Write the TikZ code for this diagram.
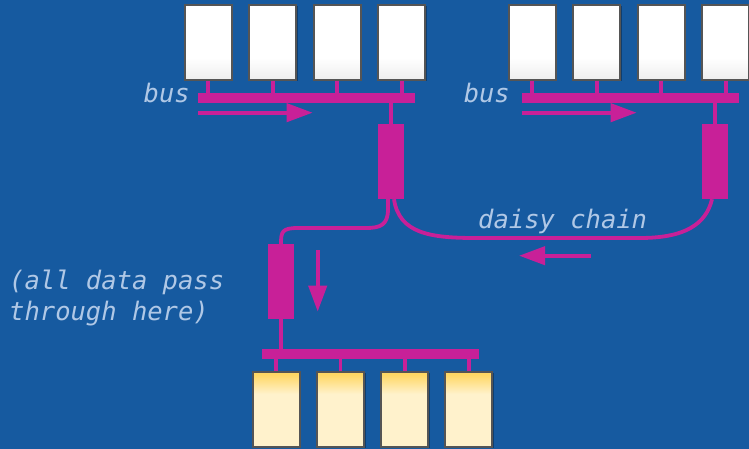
\documentclass[tikz,border=0pt]{standalone}
\usepackage{fontspec}
\newfontfamily\labelfont{DejaVu Sans Mono}
\usetikzlibrary{arrows.meta,shadows}
\definecolor{bg}{RGB}{22,90,160}
\definecolor{mag}{RGB}{200,32,152}
\definecolor{txt}{RGB}{176,200,230}
\definecolor{gold}{RGB}{255,215,100}
\definecolor{cream}{RGB}{255,242,204}
\definecolor{edge}{RGB}{85,85,85}
\definecolor{lightgray}{RGB}{238,238,238}
\pgfdeclareverticalshading{whitebox}{100bp}{color(0bp)=(lightgray); color(25bp)=(lightgray); color(40bp)=(white); color(100bp)=(white)}
\pgfdeclareverticalshading{creambox}{100bp}{color(0bp)=(cream); color(60bp)=(cream); color(73bp)=(gold); color(100bp)=(gold)}
\tikzset{
  cpu/.style={draw=edge, line width=2pt, minimum width=47pt, minimum height=75pt, inner sep=0pt,
    shade, shading=whitebox, drop shadow={opacity=0.3, shadow xshift=1.5pt, shadow yshift=-1.5pt, fill=black}},
  mem/.style={cpu, shading=creambox},
  busbar/.style={fill=mag, minimum width=217pt, minimum height=9.5pt, inner sep=0pt},
  switchbox/.style={fill=mag, minimum width=26pt, minimum height=75pt, inner sep=0pt},
  stub/.style={draw=mag, line width=3.8pt},
  wire/.style={draw=mag, line width=3.8pt},
  flow/.style={draw=mag, line width=4pt, -{Triangle[length=26pt,width=18pt]}},
  lbl/.style={text=txt, font=\labelfont\itshape\fontsize{25.5}{31.5}\selectfont, inner sep=0pt}
}
\begin{document}
\begin{tikzpicture}[x=1pt, y=-1pt]
\useasboundingbox (0,0) rectangle (749,449);
\fill[bg] (0,0) rectangle (749,449);

% switches
\node[switchbox] (sw1) at (391,161.5) {};
\node[switchbox] (sw2) at (715,161.5) {};
\node[switchbox] (sw3) at (281,281.5) {};

\draw[wire] ([xshift=-3pt]sw1.south) -- ++(0,10) .. controls +(0,16) and +(14,0) .. (366,228) -- (298,228) .. controls +(-16,0) and +(0,-12) .. (sw3.north);
\draw[wire] ([xshift=3pt]sw1.south) .. controls +(5,34) and +(-45,0) .. (475,238) -- (640,238) .. controls +(45,0) and +(-6,25) .. ([xshift=-3pt]sw2.south);

% buses
\node[busbar] (bus1) at (306.5,98) {};
\node[busbar] (bus2) at (630.3,98) {};
\node[busbar, minimum height=10pt] (bus3) at (370.5,354) {};

% boxes
\foreach \i in {0,...,3} {
  \node[cpu] (a\i) at ({208+64.6*\i},42.5) {};
  \draw[stub] (a\i.south) -- (a\i.south |- bus1.north);
  \node[cpu] (b\i) at ({532+64.6*\i},42.5) {};
  \draw[stub] (b\i.south) -- (b\i.south |- bus2.north);
  \node[mem] (m\i) at ({276.3+64.2*\i},409) {};
  \draw[stub] (m\i.north) -- (m\i.north |- bus3.south);
}

\draw[stub] (sw1.north) -- (sw1.north |- bus1.south);
\draw[stub] (sw2.north) -- (sw2.north |- bus2.south);
\draw[stub] (sw3.south) -- (sw3.south |- bus3.north);

% flow arrows
\coordinate (f1s) at (198,112.7); \coordinate (f1e) at (312.7,112.7);
\coordinate (f2s) at (522,112.7); \coordinate (f2e) at (636.7,112.7);
\coordinate (f3s) at (591,255.7); \coordinate (f3e) at (519,255.7);
\coordinate (f4s) at (317.7,250); \coordinate (f4e) at (317.7,311.7);
\draw[flow] (f1s) -- (f1e);
\draw[flow] (f2s) -- (f2e);
\draw[flow] (f3s) -- (f3e);
\draw[flow] (f4s) -- (f4e);

% labels
\node[lbl, anchor=base east] (t1) at (190,103) {bus};
\node[lbl, anchor=base east] (t2) at (510,103) {bus};
\node[lbl, anchor=base west] (t3) at (478,228) {daisy chain};
\node[lbl, anchor=base west] (t4) at (9,289) {(all data pass};
\node[lbl, anchor=base west] (t5) at (9,320.5) {through here)};
\end{tikzpicture}
\end{document}
